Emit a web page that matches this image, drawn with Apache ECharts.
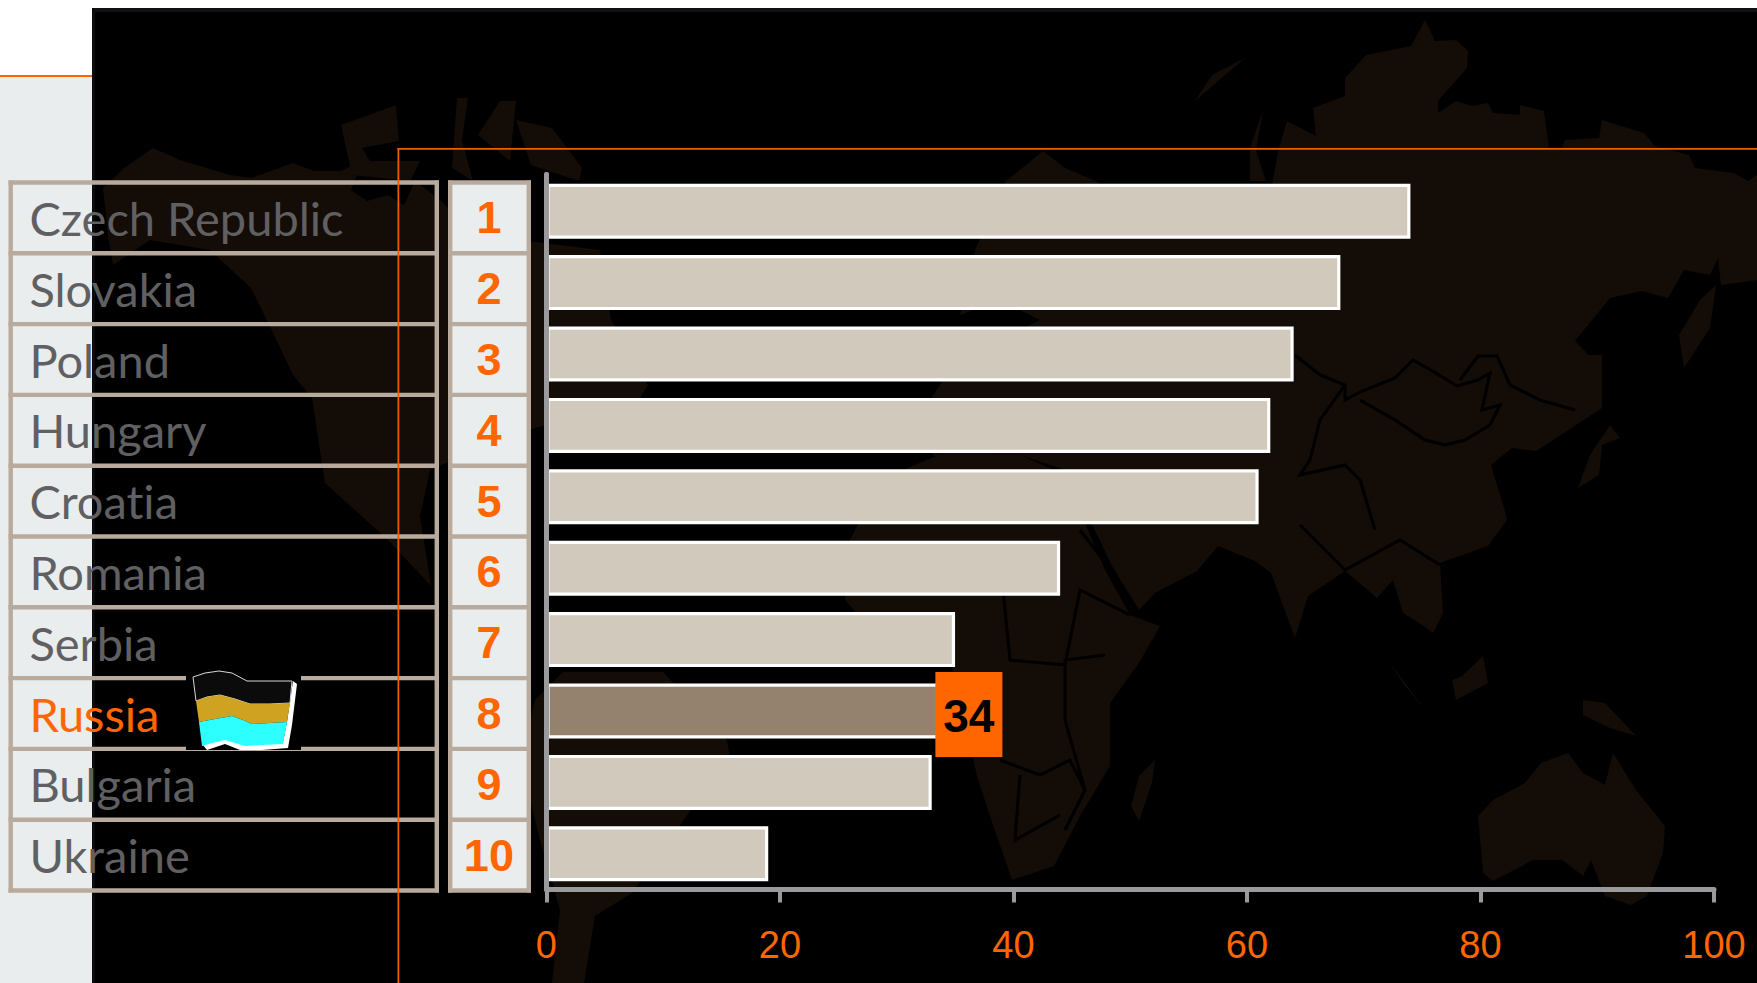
<!DOCTYPE html>
<html><head><meta charset="utf-8">
<style>html,body{margin:0;padding:0;background:#fff}#c{width:1757px;height:983px}
svg text{font-variant-ligatures:none !important;text-rendering:optimizeSpeed}</style>
<script src="https://cdn.jsdelivr.net/npm/echarts@6/dist/echarts.min.js"></script></head>
<body><div id="c"></div>
<script>
const countries = ['Czech Republic','Slovakia','Poland','Hungary','Croatia','Romania','Serbia','Russia','Bulgaria','Ukraine'];
const ranks = ['1','2','3','4','5','6','7','8','9','10'];
const values = [74,68,64,62,61,44,35,34,33,19];
const highlighted = 'Russia';
const tickStep = 20;

const ORANGE='#ff6600', LAND='#140c07', FRAME='#b8aa9c', PANE='#e9edee', GREY='#9a9a9c';

// Decorative backdrop outlines (pixel space), not chart data
const land = [
 // Eurasia
 [[1279,148],[1287,121],[1316,136],[1313,108],[1345,96],[1345,78],[1366,55],[1411,46],[1425,20],[1435,41],[1456,40],[1468,51],[1467,68],[1438,101],[1438,113],[1456,101],[1472,106],[1488,103],[1493,113],[1520,115],[1520,105],[1544,111],[1549,148],[1562,148],[1565,140],[1599,138],[1602,120],[1644,133],[1655,146],[1689,155],[1695,168],[1734,173],[1748,181],[1757,175],[1757,280],[1721,285],[1718,258],[1710,275],[1684,270],[1668,298],[1642,291],[1610,298],[1575,341],[1589,355],[1602,355],[1602,408],[1567,431],[1536,451],[1512,448],[1491,465],[1504,508],[1507,520],[1488,546],[1440,563],[1443,613],[1433,633],[1419,623],[1403,613],[1393,580],[1377,598],[1345,571],[1308,596],[1295,638],[1271,573],[1255,561],[1218,546],[1197,571],[1155,593],[1139,610],[1112,566],[1090,520],[1065,470],[1020,455],[960,470],[925,450],[930,400],[950,370],[1000,340],[1040,320],[1000,300],[960,315],[975,250],[1006,181],[1043,151],[1065,168],[1096,181],[1130,205],[1200,210],[1270,195]],
 // Africa
 [[845,600],[850,540],[880,480],[950,450],[1020,455],[1065,475],[1105,570],[1130,615],[1160,626],[1139,663],[1110,703],[1110,766],[1080,816],[1054,866],[1012,880],[990,816],[977,776],[960,700],[950,660],[880,640]],
 // North America
 [[103,188],[124,168],[153,148],[180,160],[230,175],[251,178],[293,163],[314,171],[341,171],[362,161],[351,190],[367,201],[388,195],[404,205],[415,181],[440,200],[470,230],[520,240],[600,250],[611,320],[648,385],[640,398],[560,420],[500,440],[430,470],[420,516],[431,586],[388,540],[325,483],[312,398],[293,375],[277,341],[251,288],[210,250],[150,240],[113,265],[108,235]],
 // South America
 [[563,672],[663,672],[727,740],[732,770],[690,811],[632,893],[595,916],[584,983],[552,983],[560,910],[540,840],[520,760],[535,700]],
 // Arctic islands
 [[341,125],[396,105],[399,141],[362,148],[370,161],[420,161],[410,181],[352,175]],
 [[457,98],[468,98],[462,140],[473,181],[452,168]],
 [[500,101],[478,135],[510,161],[516,101]],
 [[516,120],[552,128],[582,168],[579,181],[531,165]],
 // Australia
 [[1478,816],[1493,800],[1525,783],[1541,763],[1568,753],[1583,773],[1605,785],[1613,753],[1636,790],[1665,826],[1663,853],[1647,896],[1631,905],[1605,896],[1591,860],[1583,876],[1562,860],[1533,860],[1493,881],[1483,873]],
 // Islands
 [[1155,760],[1139,776],[1131,806],[1139,821],[1152,783]],
 [[1583,700],[1605,703],[1636,736],[1610,728],[1583,715]],
 [[1462,676],[1483,656],[1488,683],[1456,700],[1452,680]],
 [[1388,660],[1427,713],[1403,683]],
 [[1610,425],[1620,438],[1602,445],[1599,475],[1578,488],[1590,455]],
 [[1716,285],[1710,328],[1684,368],[1679,335],[1700,300]],
 [[1263,110],[1250,148],[1250,181],[1266,181],[1256,150]],
 [[1245,58],[1195,101],[1212,75]]
];
const borders = [
 [[1295,355],[1320,375],[1345,385],[1345,400],[1360,392],[1395,378],[1413,360],[1434,372],[1457,386],[1478,380],[1490,373],[1482,410],[1500,405],[1490,425],[1465,440],[1445,445],[1425,440],[1395,420],[1360,400]],
 [[1460,380],[1478,356],[1497,356],[1510,385],[1540,400],[1575,410]],
 [[1345,385],[1320,420],[1310,460],[1300,475],[1345,465],[1360,480],[1375,530]],
 [[1300,525],[1345,570],[1400,540],[1440,565]],
 [[1080,530],[1115,575],[1140,615]],
 [[1105,655],[1065,660],[1065,720],[1085,790]],
 [[1000,560],[1010,660],[1065,665],[1080,590],[1130,615]],
 [[1000,760],[1040,775],[1070,760],[1085,790],[1065,830]],
 [[1020,775],[1015,840],[1060,815]]
];
const flagTop=[[193,677],[205,673],[219,671],[232,673],[247,681],[270,681],[292,681]];
const flagA=[[196,701],[207,697],[220,695],[235,699],[250,704],[270,704],[290,703]];
const flagB=[[199,722],[215,719],[232,716],[243,720],[252,724],[270,723],[287,722]];
const flagC=[[202,746],[212,743],[225,740],[235,743],[245,746],[262,745],[283,744]];
const band=(a,b)=>a.concat(b.slice().reverse());

const rows = countries.length, rowTop = 182.5, rowH = 70.8;
const g = [];
g.push({type:'rect', z:-30, silent:true, shape:{x:0,y:76,width:92,height:907}, style:{fill:PANE}});
g.push({type:'rect', z:-30, silent:true, shape:{x:0,y:75,width:92,height:2}, style:{fill:ORANGE}});
g.push({type:'rect', z:-30, silent:true, shape:{x:92,y:8,width:1665,height:975}, style:{fill:'#000'}});
g.push({type:'rect', z:-29, silent:true, shape:{x:92,y:8,width:1665,height:4}, style:{fill:'#111113'}});
g.push({type:'rect', z:-29, silent:true, shape:{x:92,y:8,width:3,height:975}, style:{fill:'#0c0c0e'}});
land.forEach(p => g.push({type:'polygon', z:-28, silent:true, shape:{points:p}, style:{fill:LAND}}));
borders.forEach(p => g.push({type:'polyline', z:-27, silent:true, shape:{points:p}, style:{stroke:'#000',lineWidth:3,fill:'none'}}));
// orange frame
g.push({type:'rect', z:-10, silent:true, shape:{x:397.5,y:148,width:1360,height:1.8}, style:{fill:'#e86000'}});
g.push({type:'rect', z:-5, silent:true, shape:{x:397.5,y:148,width:1.8,height:835}, style:{fill:'#e86000'}});
// rank column
g.push({type:'rect', z:-12, silent:true, shape:{x:449.5,y:rowTop,width:80,height:rowH*rows}, style:{fill:PANE}});
for(let i=0;i<=rows;i++){
  const y = rowTop+i*rowH;
  g.push({type:'rect', z:-9, silent:true, shape:{x:8.5,y:y-2.2,width:430.5,height:4.4}, style:{fill:FRAME}});
  g.push({type:'rect', z:-9, silent:true, shape:{x:448,y:y-2.2,width:83,height:4.4}, style:{fill:FRAME}});
}
[[8.5,4.4],[434.6,4.4],[448,4.4],[526.6,4.4]].forEach(([x,w]) =>
  g.push({type:'rect', z:-9, silent:true, shape:{x,y:rowTop-2,width:w,height:rowH*rows+4}, style:{fill:FRAME}}));
// vertical axis cap above the grid
g.push({type:'rect', z:6, silent:true, shape:{x:544,y:172,width:5,height:10,r:2}, style:{fill:GREY}});
// flag
g.push({type:'rect', z:20, silent:true, shape:{x:186,y:676,width:115,height:74}, style:{fill:'#000'}});
g.push({type:'polygon', z:21, silent:true, shape:{points:[[202,744],[225,738],[245,744],[283,742],[287,722],[293,681],[297,684],[292,725],[288,748],[262,750],[240,750],[225,744],[207,750]]}, style:{fill:'#fff'}});
g.push({type:'polygon', z:22, silent:true, shape:{points:band(flagTop,flagA)}, style:{fill:'#0b0b0b',stroke:'#d8d8d8',lineWidth:1}});
g.push({type:'polygon', z:23, silent:true, shape:{points:band(flagA,flagB)}, style:{fill:'#cfa321'}});
g.push({type:'polygon', z:23, silent:true, shape:{points:band(flagB,flagC)}, style:{fill:'#2dffff'}});

const chart = echarts.init(document.getElementById('c'), null, {renderer:'svg'});
chart.setOption({
 animation:false,
 backgroundColor:'#fff',
 graphic:{elements:g},
 grid:[
  {left:546.4, right:43, top:175.5, bottom:983-889.5, containLabel:false},
  {left:546.4, right:43, top:rowTop, height:rowH*rows, containLabel:false}
 ],
 xAxis:[
  {type:'value', gridIndex:0, min:0, max:100, interval:tickStep, z:5,
   axisLine:{show:true,lineStyle:{color:GREY,width:5}},
   axisTick:{show:true,length:13,lineStyle:{color:GREY,width:4}},
   splitLine:{show:false},
   axisLabel:{color:ORANGE,fontFamily:'Liberation Sans',fontSize:38,margin:36,hideOverlap:false,showMinLabel:true,showMaxLabel:true}},
  {type:'value', gridIndex:1, min:0, max:100, show:false}
 ],
 yAxis:[
  {type:'category', gridIndex:0, position:'left', data:countries, inverse:true, z:5,
   axisLine:{show:true,onZero:false,lineStyle:{color:GREY,width:5}},
   axisTick:{show:false}, axisLabel:{show:false}, splitLine:{show:false}},
  {type:'category', gridIndex:1, position:'left', data:countries, inverse:true, z:6,
   axisLine:{show:false}, axisTick:{show:false}, splitLine:{show:false},
   axisLabel:{interval:0, align:'left', margin:517, fontFamily:'Lato', fontSize:47, padding:[22,0,0,0],
     color:(v)=> v===highlighted ? ORANGE : '#606062'}},
  {type:'category', gridIndex:1, position:'left', data:ranks, inverse:true, z:6,
   axisLine:{show:false}, axisTick:{show:false}, splitLine:{show:false},
   axisLabel:{interval:0, align:'center', margin:57.5, fontFamily:'Liberation Sans', fontWeight:'bold', fontSize:45, padding:[23,0,0,0], color:ORANGE}}
 ],
 series:[{
  type:'bar', xAxisIndex:0, yAxisIndex:0, barWidth:55, z:4,
  itemStyle:{color:'#d1c9bc',borderColor:'#fff',borderWidth:3.2},
  data: values.map((v,i)=> countries[i]===highlighted ? {
     value:v, itemStyle:{color:'#94826e'},
     label:{show:true, position:'right', distance:0, offset:[-8,3.5], formatter:'{a|{c}}', padding:0,
       rich:{a:{width:67,height:83,lineHeight:83,padding:[2,0,0,0],align:'center',verticalAlign:'middle',backgroundColor:ORANGE,color:'#000',
         fontFamily:'Liberation Sans',fontWeight:'bold',fontSize:46}}}
   } : v)
 }]
});
</script></body></html>
